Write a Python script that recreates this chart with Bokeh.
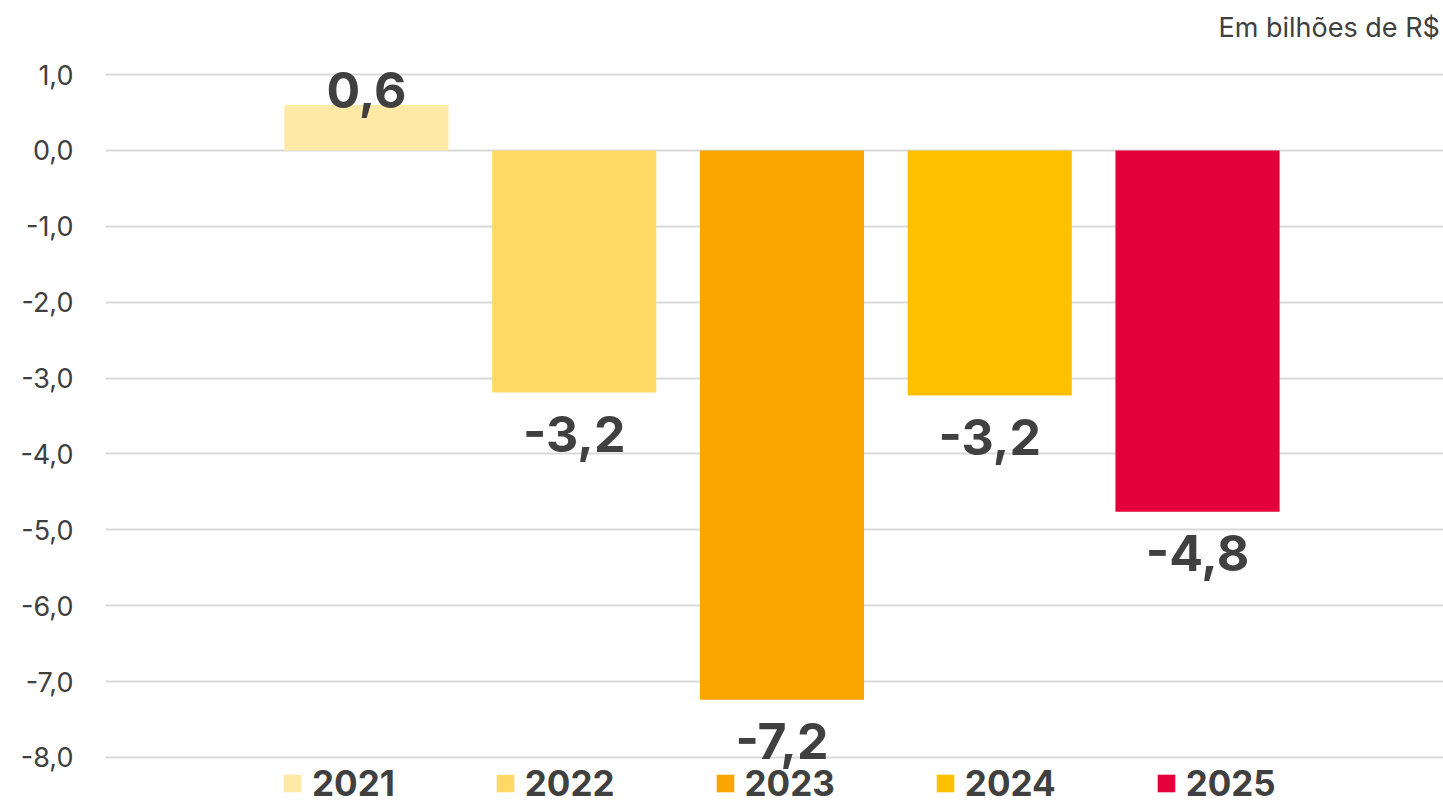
import numpy as np
from bokeh.plotting import figure
from bokeh.models import (ColumnDataSource, Range1d, FixedTicker, CustomJSTickFormatter,
                          Label, Legend, LegendItem)
from bokeh.core.properties import value
from bokeh.embed import file_html
from bokeh.resources import INLINE

years = ["2021", "2022", "2023", "2024", "2025"]
values = [0.6, -3.19, -7.24, -3.23, -4.76]
colors = ["#FFE9A6", "#FFD966", "#FAA500", "#FFC000", "#E4003A"]
y_ticks = [1, 0, -1, -2, -3, -4, -5, -6, -7, -8]
unit_note = "Em bilhões de R$"

FONT = "Inter"
TXT = "#404040"

xs = list(range(len(years)))
labels = [("%.1f" % v).replace(".", ",") for v in values]
offsets = [-15 if v >= 0 else 41 for v in values]

src = ColumnDataSource(dict(x=xs, top=values, year=years, color=colors,
                            label=labels, off=offsets))

p = figure(width=1443, height=805, output_backend="svg", toolbar_location=None,
           x_range=Range1d(-1.256, 5.184), y_range=Range1d(-8.633, 1.977),
           x_axis_location=None, min_border_left=105, min_border_right=0,
           min_border_top=0, min_border_bottom=0)
p.outline_line_color = None
p.background_fill_color = "white"
p.border_fill_color = "white"

p.xgrid.visible = False
p.ygrid.ticker = FixedTicker(ticks=y_ticks)
p.ygrid.grid_line_color = "#D9D9D9"
p.ygrid.grid_line_width = 2

ax = p.yaxis[0]
ax.ticker = FixedTicker(ticks=y_ticks)
ax.formatter = CustomJSTickFormatter(code="return tick.toFixed(1).replace('.', ',');")
ax.axis_line_color = None
ax.major_tick_line_color = None
ax.minor_tick_line_color = None
ax.major_tick_out = 0
ax.major_tick_in = 0
ax.major_label_standoff = 32
ax.major_label_text_font = FONT
ax.major_label_text_font_size = "27px"
ax.major_label_text_color = TXT

r = p.vbar(x="x", top="top", bottom=0, width=0.79, fill_color="color",
           line_color=None, source=src)

p.text(x="x", y="top", text="label", y_offset="off", source=src,
       text_align="center", text_baseline="alphabetic",
       text_font=value(FONT), text_font_style="bold", text_font_size="50px",
       text_color=TXT)

items = [LegendItem(label=y, renderers=[r], index=i) for i, y in enumerate(years)]
legend = Legend(items=items, orientation="horizontal", location=(176, 1),
                padding=0, margin=0, spacing=99, glyph_width=22, glyph_height=22,
                label_standoff=9, label_text_font=FONT, label_text_font_style="bold",
                label_text_font_size="35px", label_text_color=TXT,
                border_line_color=None, background_fill_alpha=0)
p.add_layout(legend, "center")

p.add_layout(Label(x=4.101, y=1.62, text=unit_note, text_align="left",
                   text_baseline="alphabetic", text_font=FONT, text_font_size="27px",
                   text_color=TXT))

open("out.html", "w").write(file_html(p, INLINE))
